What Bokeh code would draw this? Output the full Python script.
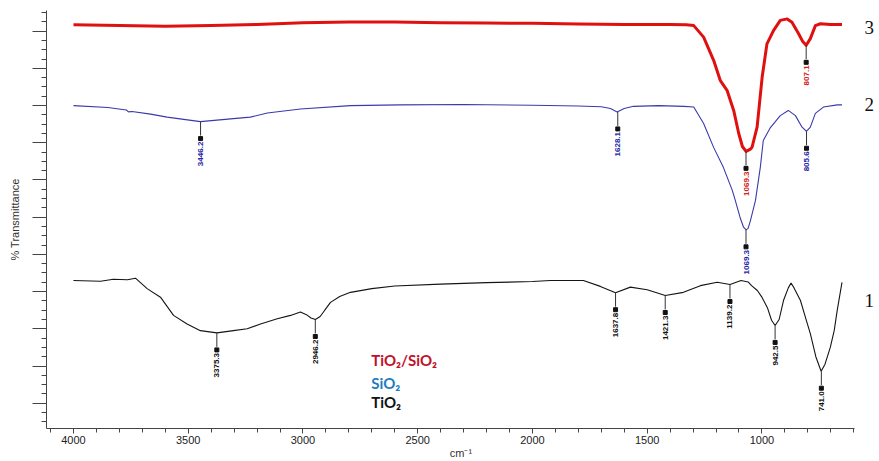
import numpy as np
from bokeh.plotting import figure
from bokeh.models import Range1d, FixedTicker, Label
from bokeh.embed import file_html
from bokeh.resources import INLINE
from bokeh.core.properties import value

# ---------------- data (wavenumber cm^-1, % transmittance, offset traces) ----------------
ts_wn = [4000, 3800, 3600, 3400, 3200, 3000, 2800, 2600, 2400, 2200, 2000, 1800, 1600, 1400, 1330,
         1297, 1254, 1210, 1181, 1152, 1123, 1101, 1085, 1069, 1050, 1043, 1021, 999, 978, 949,
         920, 890, 869, 840, 822, 807, 789, 767, 745, 702, 651]
ts_t = [111.7, 111.5, 111.3, 111.5, 111.8, 112.3, 112.5, 112.5, 112.3, 112.2, 112.1, 111.9, 111.8, 111.8, 111.7,
        111.5, 108.4, 102.1, 96.7, 94.1, 88.7, 82.5, 79.0, 77.7, 78.3, 78.8, 84.2, 97.6, 106.6, 110.2,
        112.9, 113.3, 112.4, 109.3, 107.2, 106.2, 108.0, 111.5, 112.0, 111.8, 111.8]

si_wn = [4000, 3850, 3770, 3760, 3745, 3664, 3592, 3447, 3303, 3229, 3155, 3011, 2793, 2575, 2300,
         2000, 1800, 1700, 1660, 1631, 1600, 1560, 1450, 1340, 1297, 1254, 1210, 1168, 1129, 1116,
         1094, 1080, 1069, 1060, 1050, 1028, 1007, 994, 963, 920, 885, 854, 825, 806, 789, 767, 732, 671, 651]
si_t = [90.0, 89.5, 88.8, 88.3, 88.4, 87.7, 86.9, 85.7, 86.5, 86.9, 88.0, 89.1, 90.0, 90.2, 90.3,
        90.1, 89.9, 89.7, 89.2, 88.3, 89.2, 89.8, 90.0, 89.8, 89.6, 85.2, 78.7, 73.4, 67.2, 64.5,
        59.7, 57.3, 56.6, 57.0, 59.1, 64.5, 73.4, 80.6, 84.1, 87.3, 88.7, 87.3, 84.2, 83.1, 84.2, 87.9, 89.6, 90.2, 90.2]

ti_wn = [4000, 3882, 3826, 3765, 3730, 3679, 3621, 3564, 3505, 3447, 3375, 3303, 3243, 3185, 3112,
         3054, 3011, 2985, 2965, 2946, 2925, 2905, 2880, 2840, 2793, 2700, 2600, 2400, 2200, 2000,
         1922, 1778, 1704, 1638, 1573, 1500, 1421, 1342, 1268, 1195, 1139, 1091, 1060, 1045, 1020,
         1000, 975, 958, 942.5, 925, 906, 885, 873, 860, 832, 810, 789, 765, 742, 725, 702, 685, 672, 662, 651]
ti_t = [43.0, 42.8, 43.3, 43.2, 43.6, 40.8, 38.5, 33.6, 31.3, 29.5, 28.9, 29.5, 30.0, 31.3, 32.7,
        33.6, 34.5, 33.8, 32.9, 32.5, 33.3, 35.0, 37.1, 38.7, 39.8, 40.8, 41.5, 42.0, 42.4, 42.7,
        43.0, 43.0, 41.4, 39.7, 41.2, 40.5, 38.95, 39.8, 41.6, 42.5, 41.9, 43.0, 42.6, 41.6, 40.3,
        38.5, 35.5, 32.3, 30.9, 32.5, 37.6, 41.0, 42.3, 41.0, 37.6, 33.0, 28.7, 22.5, 18.6, 20.5, 25.0, 29.5, 34.9, 38.5, 42.5]

ts_peak_wn = [1069.3, 807.1]
ts_peak_t = [77.7, 106.2]
ts_peak_lbl = ["1069.3", "807.1"]

si_peak_wn = [3446.2, 1628.1, 1069.3, 805.6]
si_peak_t = [85.7, 88.3, 56.6, 83.1]
si_peak_lbl = ["3446.2", "1628.1", "1069.3", "805.6"]

ti_peak_wn = [3375.3, 2946.2, 1637.8, 1421.3, 1139.2, 942.5, 741.0]
ti_peak_t = [28.9, 32.5, 39.7, 38.95, 41.9, 30.9, 18.6]
ti_peak_lbl = ["3375.3", "2946.2", "1637.8", "1421.3", "1139.2", "942.5", "741.0"]

legend_names = ["TiO\u2082/SiO\u2082", "SiO\u2082", "TiO\u2082"]
trace_numbers = ["3", "2", "1"]
x_major = [1000, 1500, 2000, 2500, 3000, 3500, 4000]
y_major = list(range(10, 120, 10))

# ---------------- figure ----------------
p = figure(width=879, height=461, output_backend="svg", toolbar_location=None,
           x_range=Range1d(4117.6, 505), y_range=Range1d(3.2, 115.56),
           min_border_left=46, min_border_right=4, min_border_top=10, min_border_bottom=33)
p.xgrid.visible = False
p.ygrid.visible = False
p.outline_line_color = None
p.background_fill_color = "white"
p.border_fill_color = "white"

RED = "#e01010"
BLUE = "#3a3aaa"
BLACK = "#151515"

p.line(ts_wn, ts_t, line_color=RED, line_width=3, line_join="round")
p.line(si_wn, si_t, line_color=BLUE, line_width=1.1)
p.line(ti_wn, ti_t, line_color=BLACK, line_width=1.1)

drop = 3.76   # 14 px
sq = 4.57     # 17 px
txt = 5.4     # 20 px


def annotate(wn, t, lbl, color):
    t = np.array(t, dtype=float)
    p.segment(x0=wn, y0=t, x1=wn, y1=t - drop, line_color="#333333", line_width=1)
    p.scatter(x=wn, y=t - sq, marker="square", size=4, color="#111111")
    p.text(x=wn, y=t - txt, text=lbl, angle=np.pi / 2, text_align="right",
           text_baseline="middle", text_font=value("Liberation Sans"),
           text_font_size="8px", text_font_style="bold", text_color=color)


annotate(ts_peak_wn, ts_peak_t, ts_peak_lbl, "#d42020")
annotate(si_peak_wn, si_peak_t, si_peak_lbl, "#2525a8")
annotate(ti_peak_wn, ti_peak_t, ti_peak_lbl, "#111111")

# legend texts
leg_colors = ["#c0102a", "#1f7ec0", "#111111"]
leg_y = [21.5, 15.3, 10.2]
for name, c, yy in zip(legend_names, leg_colors, leg_y):
    p.add_layout(Label(x=2702, y=yy, text=name, text_color=c, text_font="Lato",
                       text_font_size="15px", text_font_style="bold", text_baseline="middle"))

# trace numbers
num_y = [111.0, 90.3, 37.6]
for n, yy in zip(trace_numbers, num_y):
    p.add_layout(Label(x=532, y=yy, text=n, text_color="#111111", text_font="Liberation Serif",
                       text_font_size="19px", text_align="center", text_baseline="middle"))

# axes
p.xaxis.ticker = FixedTicker(ticks=x_major, minor_ticks=list(range(600, 4200, 100)))
p.xaxis.bounds = (595, 4117.6)
p.yaxis.ticker = FixedTicker(ticks=y_major, minor_ticks=[2.5 * k for k in range(2, 47)])

for ax in (p.xaxis, p.yaxis):
    ax.axis_line_color = "#444444"
    ax.major_tick_line_color = "#444444"
    ax.minor_tick_line_color = "#444444"
    ax.major_tick_in = 0
    ax.minor_tick_in = 0
    ax.axis_label_text_font = "Liberation Sans"
    ax.axis_label_text_font_style = "normal"
    ax.axis_label_text_font_size = "11px"
    ax.axis_label_text_color = "#333333"

p.xaxis.major_tick_out = 5
p.xaxis.minor_tick_out = 4
p.xaxis.major_label_text_font = "Liberation Sans"
p.xaxis.major_label_text_font_size = "11px"
p.xaxis.major_label_text_color = "#222222"
p.xaxis.major_label_standoff = 2
p.xaxis.axis_label = "cm\u207b\u00b9"
p.xaxis.axis_label_standoff = 0

p.yaxis.major_tick_out = 14
p.yaxis.minor_tick_out = 5
p.yaxis.major_label_overrides = {t: "" for t in y_major}
p.yaxis.major_label_standoff = 0
p.yaxis.axis_label = "% Transmittance"
p.yaxis.axis_label_standoff = 12

open("out.html", "w").write(file_html(p, INLINE))
